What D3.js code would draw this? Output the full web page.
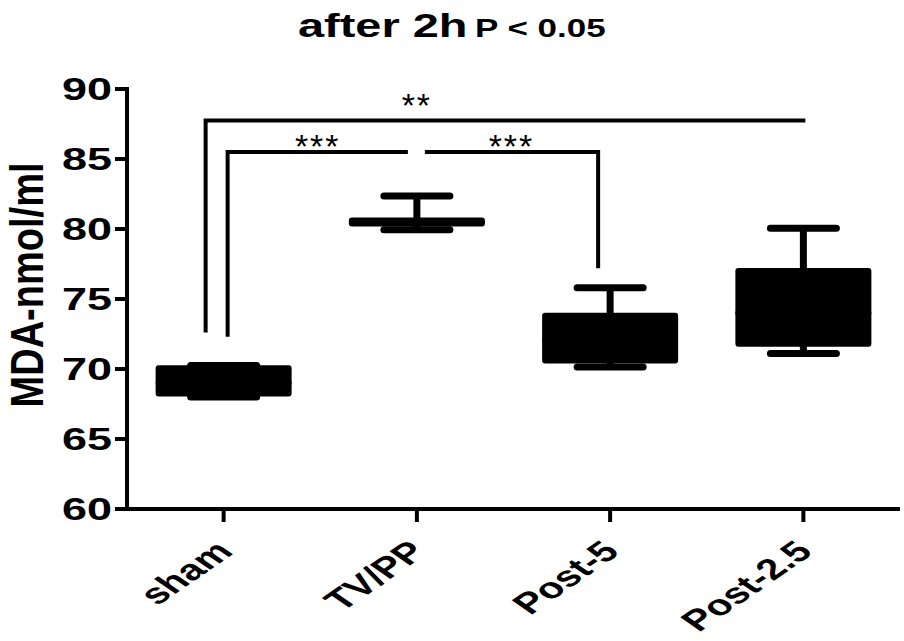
<!DOCTYPE html>
<html>
<head>
<meta charset="utf-8">
<script src="https://cdn.jsdelivr.net/npm/d3@7"></script>
<style>
  body { margin: 0; background: #fff; }
  svg { display: block; font-family: "Liberation Sans", Arial, sans-serif; font-weight: bold; }
</style>
</head>
<body>
<svg width="904" height="641"></svg>
<script>
// values
const categories = ["sham", "TV/PP", "Post-5", "Post-2.5"];
const whiskerLow = [68.0, 79.95, 70.15, 71.1];
const quart1 = [68.25, 80.4, 70.6, 71.8];
const medians = [69.0, 80.5, 72.0, 74.0];
const quart3 = [70.05, 80.6, 73.8, 77.0];
const whiskerHigh = [70.25, 82.35, 75.8, 80.05];
const yTicks = [60, 65, 70, 75, 80, 85, 90];

// significance brackets
const bracketFrom = ["sham", "sham", "TV/PP"];
const bracketTo = ["Post-2.5", "TV/PP", "Post-5"];
const bracketLevel = [87.75, 85.5, 85.5];
const bracketDropFrom = [72.6, 72.3, null];
const bracketDropTo = [null, null, 77.2];
const bracketLabels = ["**", "***", "***"];
const bracketLabelAt = ["TV/PP", null, null];

const svg = d3.select("svg");
const stretch = 1.45; // the original picture is stretched sideways

const x = d3.scalePoint().domain(categories).range([127, 900]).padding(0.5);
const y = d3.scaleLinear().domain([60, 90]).range([509, 89]);

const data = categories.map((c, i) => ({
  name: c, lo: whiskerLow[i], q1: quart1[i], med: medians[i], q3: quart3[i], hi: whiskerHigh[i]
}));

// title
svg.append("text")
  .attr("transform", "translate(298,37) scale(1.38,1)")
  .attr("font-size", 34)
  .text("after 2h");
svg.append("text")
  .attr("transform", "translate(475,37) scale(1.4,1)")
  .attr("font-size", 25)
  .text("P < 0.05");

// y axis
svg.append("line")
  .attr("x1", 127).attr("x2", 127)
  .attr("y1", y(90) - 2).attr("y2", y(60) + 2)
  .attr("stroke", "#000").attr("stroke-width", 4);
svg.selectAll(".ytick")
  .data(yTicks)
  .enter()
  .append("line")
  .attr("class", "ytick")
  .attr("x1", 115).attr("x2", 127)
  .attr("y1", d => y(d)).attr("y2", d => y(d))
  .attr("stroke", "#000").attr("stroke-width", 4);
svg.selectAll(".ylab")
  .data(yTicks)
  .enter()
  .append("text")
  .attr("class", "ylab")
  .attr("transform", d => `translate(112,${y(d) + 11}) scale(${stretch},1)`)
  .attr("text-anchor", "end")
  .attr("font-size", 31)
  .text(d => d);

svg.append("text")
  .attr("transform", `translate(43,285) scale(${stretch},1) rotate(-90)`)
  .attr("text-anchor", "middle")
  .attr("font-size", 32)
  .attr("textLength", 245)
  .attr("lengthAdjust", "spacingAndGlyphs")
  .text("MDA-nmol/ml");

// x axis
svg.append("line")
  .attr("x1", 125).attr("x2", 900)
  .attr("y1", y(60)).attr("y2", y(60))
  .attr("stroke", "#000").attr("stroke-width", 4);
svg.selectAll(".xtick")
  .data(categories)
  .enter()
  .append("line")
  .attr("class", "xtick")
  .attr("x1", d => x(d)).attr("x2", d => x(d))
  .attr("y1", y(60)).attr("y2", y(60) + 13)
  .attr("stroke", "#000").attr("stroke-width", 4);
svg.selectAll(".xlab")
  .data(categories)
  .enter()
  .append("text")
  .attr("class", "xlab")
  .attr("transform", d => `translate(${x(d) + 11},553) scale(${stretch},1) rotate(-45)`)
  .attr("text-anchor", "end")
  .attr("font-size", 29)
  .text(d => d);

// boxes
const boxW = 130, capHalf = 33;
const g = svg.append("g").attr("stroke", "#000");

g.selectAll(".stem")
  .data(data)
  .enter()
  .append("line")
  .attr("x1", d => x(d.name)).attr("x2", d => x(d.name))
  .attr("y1", d => y(d.hi)).attr("y2", d => y(d.lo))
  .attr("stroke-width", 7);

g.selectAll(".box")
  .data(data)
  .enter()
  .append("rect")
  .attr("x", d => x(d.name) - boxW / 2)
  .attr("y", d => y(d.q3))
  .attr("width", boxW)
  .attr("height", d => y(d.q1) - y(d.q3))
  .attr("fill", "#000")
  .attr("stroke-width", 6)
  .attr("stroke-linejoin", "round");

g.selectAll(".med")
  .data(data)
  .enter()
  .append("line")
  .attr("x1", d => x(d.name) - boxW / 2).attr("x2", d => x(d.name) + boxW / 2)
  .attr("y1", d => y(d.med)).attr("y2", d => y(d.med))
  .attr("stroke-width", 6)
  .attr("stroke-linecap", "round");

["lo", "hi"].forEach(k => {
  g.selectAll(".cap-" + k)
    .data(data)
    .enter()
    .append("line")
    .attr("x1", d => x(d.name) - capHalf).attr("x2", d => x(d.name) + capHalf)
    .attr("y1", d => y(d[k])).attr("y2", d => y(d[k]))
    .attr("stroke-width", 7)
    .attr("stroke-linecap", "round");
});

// brackets
const inset = [[-18, 2], [4, -9], [8, -12]];
const labelShift = [-4, 5.5, 5.5];
bracketFrom.forEach((from, i) => {
  const x1 = x(from) + inset[i][0];
  const x2 = x(bracketTo[i]) + inset[i][1];
  const yl = y(bracketLevel[i]);
  let p = "";
  if (bracketDropFrom[i] != null) p += `M${x1},${y(bracketDropFrom[i])}V${yl}`;
  else p += `M${x1},${yl}`;
  p += `H${x2}`;
  if (bracketDropTo[i] != null) p += `V${y(bracketDropTo[i])}`;
  svg.append("path")
    .attr("d", p)
    .attr("fill", "none")
    .attr("stroke", "#000")
    .attr("stroke-width", 4)
    .attr("stroke-linejoin", "miter");

  const lx = bracketLabelAt[i] ? x(bracketLabelAt[i]) : (x1 + x2) / 2;
  svg.append("text")
    .attr("x", lx)
    .attr("y", yl + labelShift[i])
    .attr("text-anchor", "middle")
    .attr("font-size", 34)
    .attr("font-weight", "normal")
    .attr("letter-spacing", 2)
    .text(bracketLabels[i]);
});
</script>
</body>
</html>
